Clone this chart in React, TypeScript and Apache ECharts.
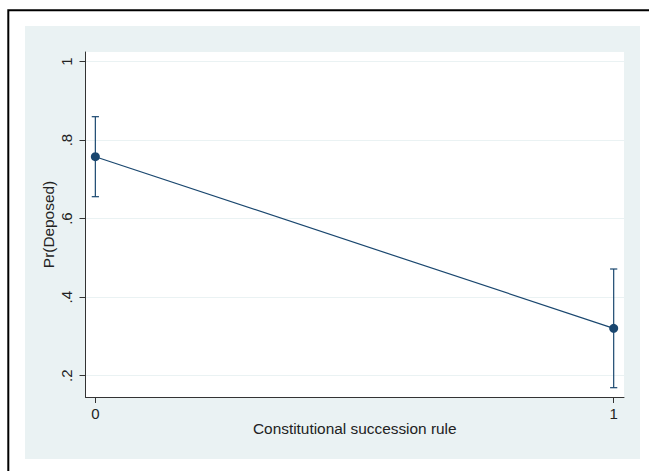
import React, { useEffect, useRef } from "react";
import * as echarts from "echarts";

const categories = [0, 1];
const predicted = [0.7576, 0.3207];
const ciLower = [0.6558, 0.1695];
const ciUpper = [0.8595, 0.4717];
const yTicks = [0.2, 0.4, 0.6, 0.8, 1];
const xTicks = [0, 1];

const NAVY = "#1a476f";
const FONT = "'Liberation Sans', Arial, Helvetica, sans-serif";

export default function App() {
  const ref = useRef<HTMLDivElement>(null);
  useEffect(() => {
    if (!ref.current) return;
    const chart = echarts.init(ref.current, undefined, { renderer: "svg" });
    const lineData = categories.map((c, i) => [c, predicted[i]]);
    const errData = categories.map((c, i) => [c, ciLower[i], ciUpper[i]]);
    chart.setOption({
      animation: false,
      backgroundColor: "#ffffff",
      graphic: [
        {
          type: "rect",
          z: -20,
          silent: true,
          shape: { x: 8.3, y: 10.3, width: 700, height: 500 },
          style: { fill: "#ffffff", stroke: "#000000", lineWidth: 2 },
        },
        {
          type: "rect",
          z: -19,
          silent: true,
          shape: { x: 25, y: 26, width: 615, height: 433 },
          style: { fill: "#eaf2f3" },
        },
      ],
      grid: {
        left: 85.5,
        top: 52,
        width: 538.5,
        height: 345,
        show: true,
        backgroundColor: "#ffffff",
        borderWidth: 0,
        containLabel: false,
      },
      xAxis: {
        type: "value",
        min: -0.019,
        max: 1.0199,
        name: "Constitutional succession rule",
        nameLocation: "middle",
        nameGap: 24,
        nameMoveOverlap: false,
        nameTextStyle: { fontFamily: FONT, fontSize: 15.4, color: "#222" },
        axisLine: { show: true, onZero: false, lineStyle: { color: "#333", width: 1 } },
        axisTick: { show: true, length: 6, customValues: xTicks, lineStyle: { color: "#333" } },
        axisLabel: {
          customValues: xTicks,
          margin: 9,
          fontFamily: FONT,
          fontSize: 15,
          color: "#222",
          formatter: (v: number) => String(v),
        },
        splitLine: { show: false },
      },
      yAxis: {
        type: "value",
        min: 0.1458,
        max: 1.0242,
        name: "Pr(Deposed)",
        nameLocation: "middle",
        nameGap: 30,
        nameMoveOverlap: false,
        nameRotate: 90,
        nameTextStyle: { fontFamily: FONT, fontSize: 15.4, color: "#222" },
        axisLine: { show: true, onZero: false, lineStyle: { color: "#333", width: 1 } },
        axisTick: { show: true, length: 6, customValues: yTicks, lineStyle: { color: "#333" } },
        axisLabel: {
          customValues: yTicks,
          rotate: 90,
          margin: 12,
          fontFamily: FONT,
          fontSize: 15,
          color: "#222",
          formatter: (v: number) => {
            const r = Math.round(v * 10) / 10;
            if (r === 1) return "1";
            return r.toFixed(1).replace(/^0/, "");
          },
        },
        splitLine: { show: true, lineStyle: { color: "#eaf2f3", width: 1 } },
      },
      series: [
        {
          type: "custom",
          data: errData,
          encode: { x: 0, y: [1, 2] },
          z: 3,
          renderItem: (params: any, api: any) => {
            const x = api.value(0);
            const lo = api.coord([x, api.value(1)]);
            const hi = api.coord([x, api.value(2)]);
            const w = 3.6;
            const style = { stroke: NAVY, lineWidth: 1.2 };
            return {
              type: "group",
              children: [
                { type: "line", shape: { x1: lo[0], y1: lo[1], x2: hi[0], y2: hi[1] }, style },
                { type: "line", shape: { x1: hi[0] - w, y1: hi[1], x2: hi[0] + w, y2: hi[1] }, style },
                { type: "line", shape: { x1: lo[0] - w, y1: lo[1], x2: lo[0] + w, y2: lo[1] }, style },
              ],
            };
          },
        },
        {
          type: "line",
          data: lineData,
          z: 4,
          symbol: "circle",
          symbolSize: 9,
          lineStyle: { color: NAVY, width: 1.2 },
          itemStyle: { color: NAVY, borderWidth: 0 },
        },
      ],
    });
    return () => chart.dispose();
  }, []);
  return (
    <div
      ref={ref}
      style={{ position: "fixed", left: 0, top: 0, width: 649, height: 471 }}
    />
  );
}
